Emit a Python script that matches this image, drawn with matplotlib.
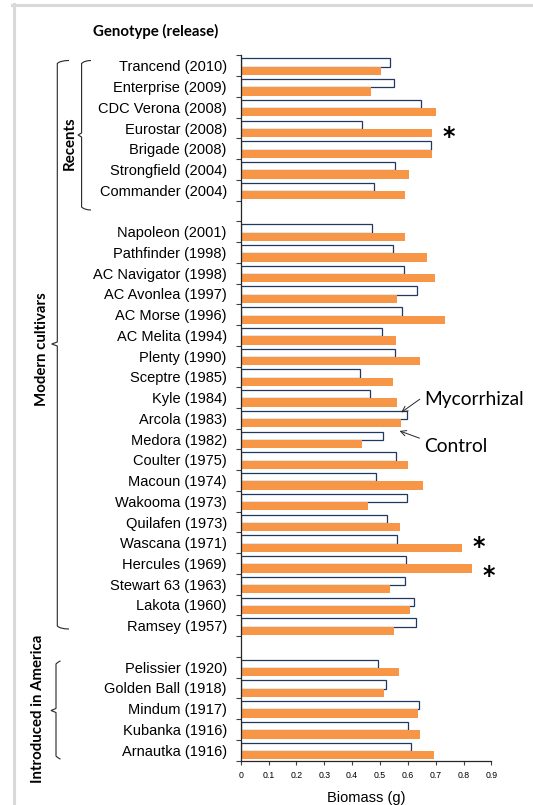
import numpy as np
import matplotlib
matplotlib.use('Agg')
import matplotlib.pyplot as plt
from matplotlib.path import Path
from matplotlib.patches import PathPatch

# ==========================================
# Data
# ==========================================
recents = ["Trancend (2010)", "Enterprise (2009)", "CDC Verona (2008)", "Eurostar (2008)",
           "Brigade (2008)", "Strongfield (2004)", "Commander (2004)"]
recents_myc = [0.536, 0.551, 0.647, 0.436, 0.683, 0.553, 0.477]
recents_ctl = [0.502, 0.466, 0.701, 0.686, 0.686, 0.604, 0.589]

modern = ["Napoleon (2001)", "Pathfinder (1998)", "AC Navigator (1998)", "AC Avonlea (1997)",
          "AC Morse (1996)", "AC Melita (1994)", "Plenty (1990)", "Sceptre (1985)", "Kyle (1984)",
          "Arcola (1983)", "Medora (1982)", "Coulter (1975)", "Macoun (1974)", "Wakooma (1973)",
          "Quilafen (1973)", "Wascana (1971)", "Hercules (1969)", "Stewart 63 (1963)",
          "Lakota (1960)", "Ramsey (1957)"]
modern_myc = [0.470, 0.548, 0.587, 0.633, 0.580, 0.508, 0.555, 0.430, 0.465, 0.596,
              0.510, 0.559, 0.485, 0.598, 0.526, 0.562, 0.592, 0.590, 0.623, 0.628]
modern_ctl = [0.590, 0.668, 0.698, 0.560, 0.733, 0.559, 0.643, 0.547, 0.561, 0.577,
              0.437, 0.599, 0.654, 0.456, 0.571, 0.794, 0.830, 0.535, 0.608, 0.552]

introduced = ["Pelissier (1920)", "Golden Ball (1918)", "Mindum (1917)", "Kubanka (1916)",
              "Arnautka (1916)"]
introduced_myc = [0.494, 0.521, 0.639, 0.601, 0.611]
introduced_ctl = [0.570, 0.516, 0.636, 0.645, 0.694]

significant = ["Eurostar (2008)", "Wascana (1971)", "Hercules (1969)"]
star_nudge = [0.42, 0.22, 0.62]   # vertical placement of each star within its row
xticks = [0, 0.1, 0.2, 0.3, 0.4, 0.5, 0.6, 0.7, 0.8, 0.9]

# one blank slot between groups, like the original
labels = recents + [""] + modern + [""] + introduced
myc = np.array(recents_myc + [np.nan] + modern_myc + [np.nan] + introduced_myc)
ctl = np.array(recents_ctl + [np.nan] + modern_ctl + [np.nan] + introduced_ctl)
pos = np.arange(len(labels))

ORANGE = '#f79646'
NAVY = '#1f3864'
CALIBRI = ['Lato', 'DejaVu Sans']
ARIAL = ['Liberation Sans', 'DejaVu Sans']

W, H = 533, 805
fig = plt.figure(figsize=(W / 100, H / 100), dpi=100)
fig.patch.set_facecolor('white')


def px(x, y):
    # pixel position (top-left origin) -> figure fraction
    return x / W, 1 - y / H


ax = fig.add_axes([240.7 / W, 1 - 760.5 / H, (491.4 - 240.7) / W, (760.5 - 55.5) / H])

ax.barh(pos - 0.16, myc, height=0.4, color='white', edgecolor=NAVY, linewidth=0.9)
ax.barh(pos + 0.24, ctl, height=0.4, color=ORANGE, edgecolor='none')

ax.set_ylim(len(labels) - 0.5, -0.5)
ax.set_xlim(0, 0.9)

ax.set_yticks(pos)
ax.set_yticklabels(labels, fontsize=10.5, family=ARIAL)
ax.set_yticks(np.arange(len(labels) + 1) - 0.5, minor=True)
ax.tick_params(axis='y', which='major', length=0, pad=10)
ax.tick_params(axis='y', which='minor', length=3.6, width=0.8, color='#404040', direction='out')

ax.set_xticks(xticks)
ax.set_xticklabels([f"{t:g}" for t in xticks], fontsize=6.3, family=ARIAL)
ax.tick_params(axis='x', length=3.2, width=0.8, color='#404040', pad=4)
ax.set_xlabel("Biomass (g)", fontsize=10.5, family=ARIAL, labelpad=8)

for side in ['top', 'right']:
    ax.spines[side].set_visible(False)
for side in ['left', 'bottom']:
    ax.spines[side].set_color('#262626')
    ax.spines[side].set_linewidth(0.9)

# significance stars
for name, dy in zip(significant, star_nudge):
    i = labels.index(name)
    ax.text(ctl[i] + 0.06, i + dy, '*', fontsize=17, fontweight='bold',
            ha='center', va='center', family=['DejaVu Sans'])

# legend-style arrows on Arcola
ia = labels.index("Arcola (1983)")
ax.annotate('', xy=(myc[ia] - 0.028, ia - 0.21), xytext=(0.651, ia - 1.0),
            arrowprops=dict(arrowstyle='->', lw=0.7, color='#262626'))
ax.annotate('', xy=(ctl[ia] - 0.016, ia + 0.56), xytext=(0.651, ia + 1.0),
            arrowprops=dict(arrowstyle='->', lw=0.7, color='#262626'))
ax.text(0.658, ia - 0.9, "Mycorrhizal", fontsize=13.8, family=CALIBRI, va='center', ha='left',
        clip_on=False)
ax.text(0.658, ia + 1.38, "Control", fontsize=13.8, family=CALIBRI, va='center', ha='left',
        clip_on=False)

# group titles
bold = dict(fontsize=10.8, fontweight='bold', family=CALIBRI, ha='center', va='center')
fig.text(*px(156, 31), "Genotype (release)", **bold)
fig.text(*px(69.7, 143.5), "Recents", rotation=90, **bold)
fig.text(*px(41.7, 349), "Modern cultivars", rotation=90, **bold)
fig.text(*px(38.4, 709), "Introduced in America", rotation=90, **bold)


def brace(x, top, bottom, mid, serif, tip):
    r = 3
    verts = [px(serif, top), px(x + r, top), px(x, top + r),
             px(x, mid - 2), px(tip, mid), px(x, mid + 2),
             px(x, bottom - r), px(x + r, bottom), px(serif, bottom)]
    codes = [Path.MOVETO, Path.CURVE3, Path.CURVE3,
             Path.LINETO, Path.LINETO, Path.LINETO,
             Path.LINETO, Path.CURVE3, Path.CURVE3]
    fig.add_artist(PathPatch(Path(verts, codes), fill=False, lw=0.8, edgecolor='#262626',
                             transform=fig.transFigure))


brace(81.6, 60.5, 210, 135, 91, 78)
brace(57.3, 60.5, 629, 344, 69, 51.7)
brace(56, 661, 759, 710.5, 60.5, 51)

# light grey frame of the original screenshot
fig.add_artist(plt.Line2D([12 / W, 1], [1 - 5.5 / H] * 2, color='#d9d9d9', lw=2.2,
                          transform=fig.transFigure))
fig.add_artist(plt.Line2D([14 / W] * 2, [0, 1 - 4.5 / H], color='#d9d9d9', lw=2.2,
                          transform=fig.transFigure))

fig.savefig("out.png", dpi=100)
